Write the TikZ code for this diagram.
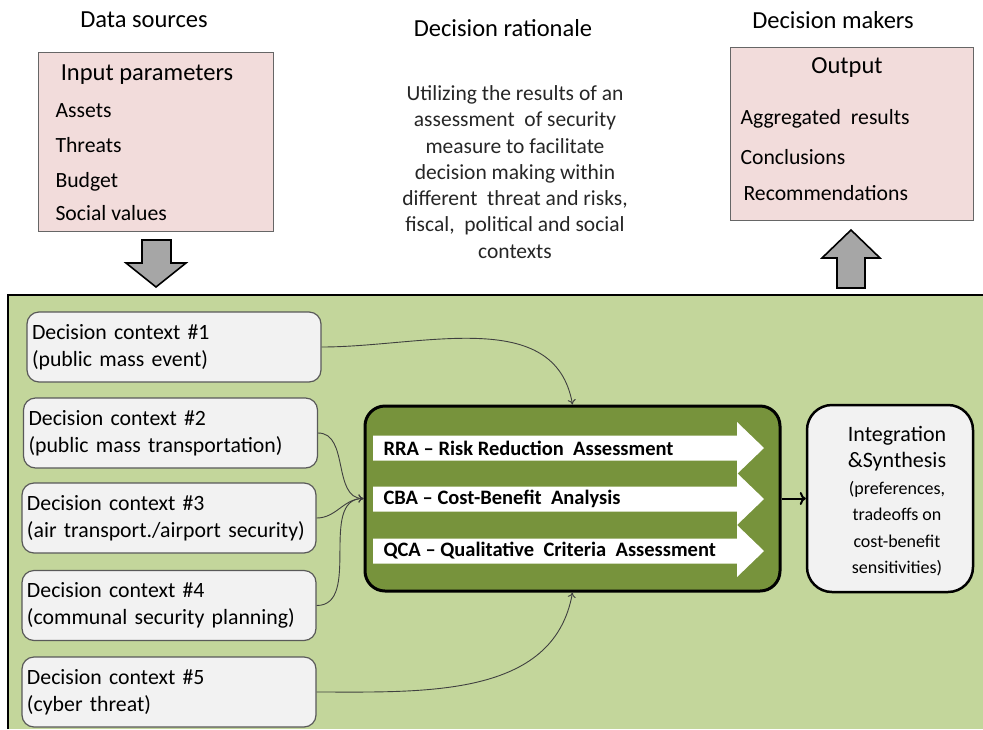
\documentclass[tikz,border=0pt]{standalone}
\usepackage{fontspec}
\setmainfont{Carlito}
\usetikzlibrary{arrows.meta}
\definecolor{pinkbox}{HTML}{F2DCDB}
\definecolor{bggreen}{HTML}{C3D69B}
\definecolor{darkgreen}{HTML}{77933C}
\definecolor{boxgray}{HTML}{F2F2F2}
\definecolor{arrowgray}{HTML}{A6A6A6}

\begin{document}
\begin{tikzpicture}[
  x=1pt, y=-1pt,
  head/.style={font=\fontsize{24.5}{28}\selectfont},
  item/.style={anchor=west, font=\fontsize{21.7}{25}\selectfont},
  panel/.style={rectangle, draw=black!60, fill=pinkbox, line width=1pt},
  ctx/.style={rectangle, rounded corners=12pt, draw=black!65, fill=boxgray, line width=1.2pt,
    minimum width=294pt, minimum height=70pt, text width=284pt, inner xsep=5pt,
    align=left, font=\fontsize{21.8}{27}\selectfont},
  core/.style={rectangle, rounded corners=20pt, draw=black, line width=3pt, fill=darkgreen,
    minimum width=415pt, minimum height=185pt},
  bandtext/.style={anchor=west, font=\bfseries\fontsize{20.5}{22}\selectfont},
  integ/.style={rectangle, rounded corners=25pt, draw=black, line width=2.5pt, fill=boxgray,
    minimum width=166pt, minimum height=187pt},
  link/.style={-{To[length=5pt,width=8pt]}, draw=black!75, line width=0.9pt},
  bigarrow/.style={draw=black, line width=1.6pt, fill=arrowgray, line join=miter}
]
\useasboundingbox (0,0) rectangle (983,729);

% background of the lower part
\fill[bggreen] (8,295) rectangle (983,729);
\draw[line width=2pt] (8,729) -- (8,295) -- (983,295);

% top row
\node[head] (src) at (144,20) {Data sources};
\node[head] (why) at (503,28) {Decision rationale};
\node[head] (dm) at (833,20) {Decision makers};

\node[panel, minimum width=235pt, minimum height=179pt] (inp) at (155.5,141.5) {};
\node[head] (inptitle) at (147,75) {Input parameters};
\node[item] (assets) at (52,111) {Assets};
\node[item] (threats) at (52,145) {Threats};
\node[item] (budget) at (52,182) {Budget};
\node[item] (social) at (52,213) {Social values};

\node[align=center, font=\fontsize{21.5}{26.3}\selectfont, text=black!85] (rationale) at (515,172)
  {Utilizing the results of an\\ assessment\ \ of security\\ measure to facilitate\\
   decision making within\\ different\ \ threat and risks,\\ fiscal,\ \ political and social\\ contexts};

\node[panel, minimum width=243pt, minimum height=173pt] (out) at (851.5,133.5) {};
\node[head] (outtitle) at (847,68) {Output};
\node[item] (aggr) at (737,119) {Aggregated\ \ results};
\node[item] (concl) at (737,157) {Conclusions};
\node[item] (recom) at (740,193) {Recommendations};

% gray block arrows
\draw[bigarrow] (142,240) -- (171,240) -- (171,263) -- (186,263) -- (156,287)
  -- (126,263) -- (142,263) -- cycle;
\draw[bigarrow] (837,288) -- (865,288) -- (865,258) -- (880,258) -- (851,230)
  -- (822,258) -- (837,258) -- cycle;

% decision contexts
\node[ctx] (ctx1) at (174,347) {Decision context \#1\\(public mass event)};
\node[ctx] (ctx2) at (170.5,433) {Decision context \#2\\(public mass transportation)};
\node[ctx] (ctx3) at (169,518) {Decision context \#3\\\mbox{(air transport./airport security)}};
\node[ctx] (ctx4) at (169,605.5) {Decision context \#4\\(communal security planning)};
\node[ctx] (ctx5) at (169,692) {Decision context \#5\\(cyber threat)};

% assessment block
\node[core] (core) at (572.5,498.5) {};
\foreach \y in {448,499,551}
  \fill[white] (373,\y-12.5) -- (737,\y-12.5) -- (737,\y-26) -- (764,\y)
    -- (737,\y+26) -- (737,\y+12.5) -- (373,\y+12.5) -- cycle;
\node[bandtext] (rra) at (380,448) {RRA -- Risk Reduction\ \ Assessment};
\node[bandtext] (cba) at (380,499) {CBA -- Cost-Benefit\ \ Analysis};
\node[bandtext] (qca) at (380,551) {QCA -- Qualitative\ \ Criteria\ \ Assessment};

\node[integ] (integ) at (890,498.5) {};
\node[align=center, font=\fontsize{18}{26.5}\selectfont] (integtext) at (897,501)
  {{\fontsize{22}{26.5}\selectfont Integration}\\ {\fontsize{22}{26.5}\selectfont \&Synthesis}\\
   (preferences,\\ tradeoffs on\\ cost-benefit\\ sensitivities)};

% connectors
\draw[link] (ctx1.east) to[out=0, in=100] (core.north);
\draw[link] (ctx2.east) to[out=0, in=180] (core.west);
\draw[link] (ctx3.east) to[out=0, in=180] (core.west);
\draw[link] (ctx4.east) to[out=0, in=180] (core.west);
\draw[link] (ctx5.east) to[out=0, in=-100] (core.south);
\draw[-{To[length=6pt,width=13pt]}, line width=2pt] (core.east) -- (integ.west);
\end{tikzpicture}
\end{document}
